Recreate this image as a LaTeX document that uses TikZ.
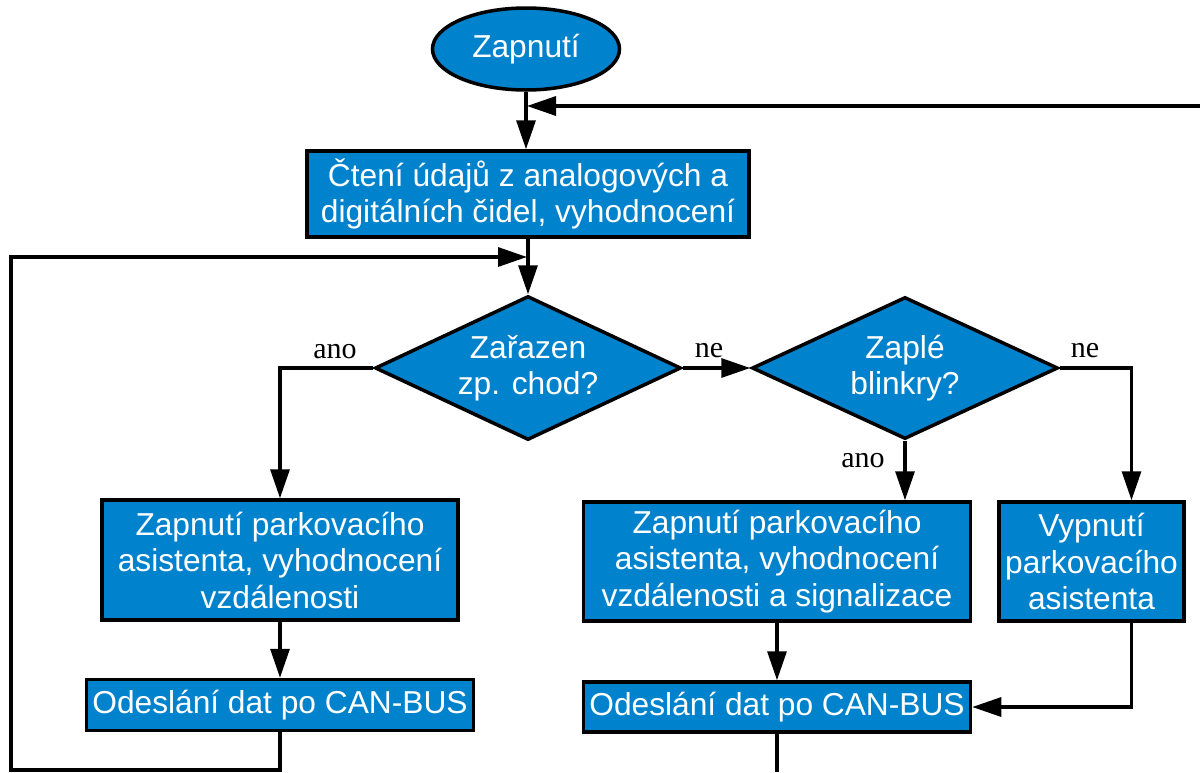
\documentclass[tikz,border=0pt]{standalone}
\usepackage{fontspec}
\setmainfont{Liberation Sans}
\newfontfamily\lblfont{Liberation Serif}
\usetikzlibrary{shapes.geometric,arrows.meta}
\definecolor{boxblue}{RGB}{0,130,205}
\tikzset{
  base/.style={draw=black, line width=3.5pt, fill=boxblue, text=white, align=center, inner sep=0pt,
    font=\fontsize{31.7}{36.5}\selectfont},
  procbox/.style={base, rectangle},
  startnode/.style={base, ellipse},
  decision/.style={base, diamond, aspect=2.1},
  arr/.style={line width=3.2pt, -{Triangle[length=29pt,width=19pt]}},
  ln/.style={line width=3.2pt},
  lbl/.style={font=\lblfont\fontsize{30}{34}\selectfont, anchor=base, inner sep=0pt}
}
\begin{document}
\begin{tikzpicture}[x=1pt,y=-1pt]
\useasboundingbox (0,0) rectangle (1200,772);
\node[startnode, minimum width=187pt, minimum height=82pt] (start) at (526,49) {Zapnutí};
\node[procbox, minimum width=442pt, minimum height=86pt] (read) at (528,194) {Čtení údajů z analogových a\\digitálních čidel, vyhodnocení};
\node[decision, minimum width=306pt, minimum height=144pt] (d1) at (528,368) {Zařazen\\zp. chod?};
\node[decision, minimum width=306pt, minimum height=142pt] (d2) at (905,368) {Zaplé\\blinkry?};
\node[procbox, minimum width=356pt, minimum height=120pt] (box2) at (280,560) {Zapnutí parkovacího\\asistenta, vyhodnocení\\vzdálenosti};
\node[procbox, minimum width=387pt, minimum height=51pt] (send1) at (280,705) {Odeslání dat po CAN-BUS};
\node[procbox, minimum width=387pt, minimum height=119pt] (box3) at (777,561.5) {Zapnutí parkovacího\\asistenta, vyhodnocení\\vzdálenosti a signalizace};
\node[procbox, minimum width=185pt, minimum height=119pt] (box4) at (1091.5,561.5) {Vypnutí\\parkovacího\\asistenta};
\node[procbox, minimum width=387pt, minimum height=50pt] (send2) at (777,707) {Odeslání dat po CAN-BUS};
\node[lbl] (ano1) at (335,358) {ano};
\node[lbl] (ne1) at (709,357) {ne};
\node[lbl] (ne2) at (1085,357) {ne};
\node[lbl] (ano2) at (863,467) {ano};
\coordinate (rt) at (1200,106);
\coordinate (j1) at (527,106);
\coordinate (j2) at (527,257);
\coordinate (lb) at (11,770);
\coordinate (b2) at (777,772);
\draw[arr] (start.south) -- (start.south |- read.north);
\draw[arr] (rt) -- (j1);
\draw[arr] (read.south) -- (read.south |- d1.north);
\draw[arr] (send1.south) |- (lb) |- (j2);
\draw[arr] (d1.west) -| (box2.north);
\draw[arr] (box2.south) -- (box2.south |- send1.north);
\draw[arr] (d1.east) -- (d2.west);
\draw[arr] (d2.south) -- (d2.south |- box3.north);
\draw[arr] (d2.east) -| ([xshift=40pt]box4.north);
\draw[arr] (box3.south) -- (box3.south |- send2.north);
\draw[arr] ([xshift=40pt]box4.south) |- (send2.east);
\draw[ln] (send2.south) -- (send2.south |- b2);
\end{tikzpicture}
\end{document}
